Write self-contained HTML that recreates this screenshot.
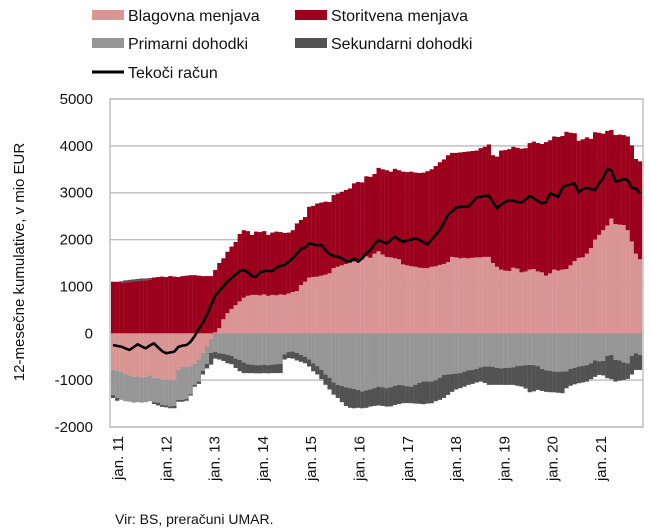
<!DOCTYPE html>
<html><head><meta charset="utf-8"><style>
body{margin:0;background:#fff;}
svg{display:block;font-family:"Liberation Sans",sans-serif;}
</style></head><body>
<svg id="chart" width="651" height="532">
<g>
 <g><rect x="92" y="10" width="32" height="10" fill="#d99594"/><text x="128" y="21" font-size="16" fill="#111">Blagovna menjava</text></g>
 <g><rect x="295" y="10" width="32" height="10" fill="#9b001c"/><text x="331" y="21" font-size="16" fill="#111">Storitvena menjava</text></g>
 <g><rect x="92" y="38" width="32" height="10" fill="#969696"/><text x="128" y="49" font-size="16" fill="#111">Primarni dohodki</text></g>
 <g><rect x="295" y="38" width="32" height="10" fill="#525252"/><text x="331" y="49" font-size="16" fill="#111">Sekundarni dohodki</text></g>
 <g><line x1="92" y1="72" x2="124" y2="72" stroke="#000" stroke-width="3"/><text x="128" y="78" font-size="16" fill="#111">Tekoči račun</text></g>
</g>
<g id="grid"></g>
<g id="bars"></g>
<g id="line"></g>
<g id="axes"></g>
<text x="0" y="0" transform="translate(24,262) rotate(-90)" text-anchor="middle" font-size="15" fill="#111">12-mesečne kumulative, v mio EUR</text>
<text x="115" y="524" font-size="14" fill="#111">Vir: BS, preračuni UMAR.</text>
</svg>
<script>
const yTicks=[5000,4000,3000,2000,1000,0,-1000,-2000];
const xLabels=["jan. 11","jan. 12","jan. 13","jan. 14","jan. 15","jan. 16","jan. 17","jan. 18","jan. 19","jan. 20","jan. 21"];
const goods=[-780,-790,-820,-880,-900,-930,-920,-940,-930,-900,-950,-960,
-980,-990,-990,-1000,-780,-720,-720,-700,-650,-560,-420,-280,
-120,20,110,300,430,520,600,680,760,800,820,820,
810,830,800,820,810,830,820,850,880,900,1030,1100,
1190,1200,1210,1230,1250,1280,1390,1420,1450,1480,1510,1530,
1550,1580,1640,1610,1700,1750,1680,1630,1620,1600,1580,1470,
1450,1430,1420,1400,1390,1390,1420,1430,1460,1480,1520,1630,
1620,1600,1610,1600,1610,1620,1620,1630,1630,1500,1420,1360,
1340,1330,1400,1380,1300,1320,1360,1370,1320,1300,1230,1280,
1360,1340,1360,1370,1450,1540,1610,1620,1700,1820,2000,2100,
2200,2300,2450,2330,2320,2310,2200,1960,1700,1580];
const services=[1100,1100,1090,1090,1100,1110,1120,1130,1130,1140,1190,1200,
1210,1200,1220,1210,1200,1220,1230,1240,1240,1230,1220,1220,
1220,1330,1390,1300,1310,1330,1350,1440,1440,1380,1280,1350,
1350,1350,1300,1330,1360,1330,1320,1300,1320,1445,1390,1380,
1510,1520,1560,1560,1560,1520,1560,1560,1570,1580,1580,1670,
1680,1640,1710,1730,1700,1780,1820,1850,1830,1910,1900,1980,
1990,2020,2010,2020,2040,2070,2080,2140,2190,2230,2280,2220,
2230,2260,2260,2280,2280,2280,2330,2350,2400,2300,2350,2540,
2570,2600,2580,2580,2640,2630,2700,2720,2740,2740,2850,2840,
2840,2850,2850,2930,2830,2730,2500,2520,2480,2330,2290,2180,
2060,2020,1890,1900,1920,1920,2000,2050,2020,2090];
const primary=[-540,-590,-600,-570,-560,-550,-550,-540,-540,-550,-520,-520,
-550,-550,-570,-550,-640,-700,-680,-600,-450,-470,-380,-370,
-300,-400,-430,-440,-460,-480,-540,-570,-620,-660,-670,-680,
-680,-670,-680,-670,-660,-650,-450,-400,-390,-420,-460,-500,
-560,-640,-700,-780,-880,-950,-1050,-1100,-1120,-1150,-1170,-1190,
-1210,-1240,-1220,-1200,-1170,-1140,-1150,-1170,-1150,-1120,-1100,-1110,
-1130,-1140,-1100,-1060,-1030,-1030,-1030,-1000,-950,-890,-880,-870,
-860,-850,-820,-790,-780,-760,-730,-711,-710,-720,-740,-750,
-740,-735,-730,-700,-690,-680,-675,-680,-700,-760,-790,-800,
-817,-820,-817,-810,-760,-740,-711,-700,-680,-640,-580,-600,
-590,-480,-462,-570,-580,-620,-640,-480,-426,-460];
const secondary=[-60,-60,20,40,40,40,40,40,40,40,-40,-60,
-40,-40,-40,-50,-40,-40,-40,-30,-40,-50,-80,-100,
-250,-140,-130,-150,-180,-180,-200,-240,-230,-190,-180,-175,
-175,-180,-175,-180,-190,-200,-110,-130,-150,-160,-150,-140,
-150,-170,-180,-200,-220,-250,-260,-280,-350,-400,-420,-410,
-380,-360,-370,-364,-380,-400,-400,-394,-410,-410,-410,-383,
-360,-353,-400,-445,-484,-470,-463,-450,-471,-490,-435,-380,
-340,-323,-320,-312,-300,-290,-301,-349,-392,-380,-360,-350,
-362,-365,-372,-420,-447,-500,-583,-560,-508,-470,-460,-458,
-443,-450,-462,-363,-360,-350,-355,-350,-351,-340,-350,-288,
-310,-479,-518,-461,-430,-375,-334,-400,-356,-322];
const currentAccount=[-250,-270,-284,-320,-355,-300,-234,-280,-320,-260,-213,-300,
-380,-426,-410,-391,-290,-263,-250,-180,-60,100,230,400,
600,800,900,1000,1100,1180,1250,1330,1350,1300,1220,1210,
1300,1329,1330,1330,1400,1440,1460,1530,1600,1700,1798,1830,
1919,1900,1880,1884,1780,1692,1650,1640,1600,1540,1528,1600,
1528,1600,1706,1778,1900,1991,1950,1920,1990,2062,2000,1955,
1980,2000,2026,1990,1941,1898,2000,2100,2204,2350,2537,2600,
2680,2701,2701,2701,2800,2900,2914,2935,2935,2800,2665,2750,
2807,2843,2830,2800,2793,2850,2935,2880,2822,2772,2800,2985,
2950,2914,3100,3163,3180,3198,3006,3080,3106,3080,3056,3200,
3319,3504,3480,3234,3260,3290,3270,3106,3090,2985];

const NS="http://www.w3.org/2000/svg";
const L=110,R=643,T=99,B=427;
const yMin=-2000,yMax=5000;
const n=goods.length;
const step=(R-L-2)/n;
function y(v){return T+(yMax-v)/(yMax-yMin)*(B-T);}
function xc(i){return L+1+step*(i+0.5);}
function mk(tag,attrs,parent){const e=document.createElementNS(NS,tag);for(const k in attrs)e.setAttribute(k,attrs[k]);parent.appendChild(e);return e;}
const grid=document.getElementById('grid'),bars=document.getElementById('bars'),lineG=document.getElementById('line'),axes=document.getElementById('axes');
yTicks.forEach(t=>{
 const g=mk('line',{x1:L,x2:R,y1:y(t),y2:y(t),stroke:'#c0c0c0','stroke-width':1.5},grid);
 
 
 const tx=mk('text',{x:93,y:y(t)+5,'text-anchor':'end','font-size':15,fill:'#111'},axes);
 tx.textContent=t;
 
 
});
const fr=mk('rect',{x:L,y:T,width:R-L,height:B-T,fill:'none',stroke:'#c0c0c0','stroke-width':1.5},axes);


function seg(i,a,b,col,name){
 const top=Math.min(y(a),y(b)),h=Math.abs(y(a)-y(b));
 if(h<=0)return;
 const r=mk('rect',{x:xc(i)-step/2,y:top,width:step+0.15,height:h,fill:col},bars);
 
 
}
for(let i=0;i<n;i++){
 let pos=0,neg=0;
 function add(v,col,name){if(v>=0){seg(i,pos,pos+v,col,name);pos+=v;}else{seg(i,neg,neg+v,col,name);neg+=v;}}
 add(goods[i],'#d99594','bar-goods');
 add(services[i],'#9b001c','bar-services');
 add(primary[i],'#969696','bar-primary');
 add(secondary[i],'#525252','bar-secondary');
}
let d='';
currentAccount.forEach((v,i)=>{d+=(i?'L':'M')+xc(i).toFixed(1)+' '+y(v).toFixed(1);});
const pl=mk('path',{d:d,fill:'none',stroke:'#000','stroke-width':2.6,'stroke-linejoin':'round'},lineG);


xLabels.forEach((lab,k)=>{
 const x=118+48.3*k;
 const t=mk('text',{x:0,y:0,transform:'translate('+(x+5)+',436) rotate(-90)','text-anchor':'end','font-size':15,fill:'#111'},axes);
 t.textContent=lab;
 
 
});
</script>
</body></html>
